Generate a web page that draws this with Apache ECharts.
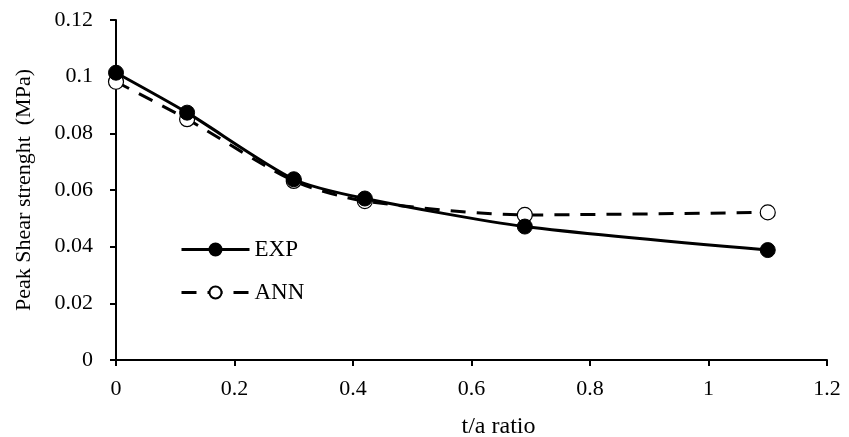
<!DOCTYPE html>
<html><head><meta charset="utf-8">
<script src="https://cdn.jsdelivr.net/npm/echarts@6/dist/echarts.min.js"></script>
<style>html,body{margin:0;padding:0;background:#fff}#c{width:849px;height:437px}</style>
</head><body><div id="c"></div>
<script>
const ratio = [0, 0.12, 0.30, 0.42, 0.69, 1.10];
const expValues = [0.1014, 0.0873, 0.0638, 0.0570, 0.0471, 0.0388];
const annValues = [0.0982, 0.0850, 0.0632, 0.0561, 0.0512, 0.0521];
const xTicks = [0, 0.2, 0.4, 0.6, 0.8, 1, 1.2];
const yTicks = [0, 0.02, 0.04, 0.06, 0.08, 0.1, 0.12];

const font = 'Liberation Serif, Times New Roman, serif';
const chart = echarts.init(document.getElementById('c'), null, {renderer: 'canvas'});
chart.setOption({
  animation: false,
  backgroundColor: '#fff',
  grid: {left: 116, right: 22, top: 20, bottom: 77, outerBoundsMode: 'none', containLabel: false},
  legend: {
    orient: 'vertical', left: 175, top: 233, itemGap: 20,
    itemWidth: 68, itemHeight: 15,
    lineStyle: {width: 3},
    textStyle: {fontFamily: font, fontSize: 23, color: '#000'},
    data: ['EXP', 'ANN']
  },
  xAxis: {
    type: 'value', min: 0, max: 1.2, interval: 0.2,
    name: 't/a ratio', nameLocation: 'middle', nameGap: 55,
    nameTextStyle: {fontFamily: font, fontSize: 24, color: '#000', padding: [0, 0, 0, 54]},
    axisLine: {lineStyle: {color: '#000', width: 2}},
    axisTick: {show: true, length: 6, lineStyle: {color: '#000', width: 2}},
    axisLabel: {fontFamily: font, fontSize: 22, color: '#000', margin: 18,
      formatter: v => { const i = xTicks.findIndex(t => Math.abs(t - v) < 1e-9); return i >= 0 ? String(xTicks[i]) : ''; }},
    splitLine: {show: false}
  },
  yAxis: {
    type: 'value', min: 0, max: 0.12, interval: 0.02,
    name: 'Peak Shear strenght  (MPa)', nameLocation: 'middle', nameGap: 81,
    nameTextStyle: {fontFamily: font, fontSize: 22, color: '#000'},
    axisLine: {show: true, lineStyle: {color: '#000', width: 2}},
    axisTick: {show: true, length: 6, lineStyle: {color: '#000', width: 2}},
    axisLabel: {fontFamily: font, fontSize: 22, color: '#000', margin: 23,
      formatter: v => { const i = yTicks.findIndex(t => Math.abs(t - v) < 1e-9); return i >= 0 ? String(yTicks[i]) : ''; }},
    splitLine: {show: false}
  },
  series: [
    {
      name: 'EXP', type: 'line', smooth: 0.25,
      data: ratio.map((x, i) => [x, expValues[i]]),
      symbol: 'circle', symbolSize: 15,
      lineStyle: {color: '#000', width: 3},
      itemStyle: {color: '#000', borderColor: '#000', borderWidth: 1},
      z: 3
    },
    {
      name: 'ANN', type: 'line', smooth: 0.25,
      data: ratio.map((x, i) => [x, annValues[i]]),
      symbol: 'circle', symbolSize: 15,
      lineStyle: {color: '#000', width: 3, type: [15, 11]},
      itemStyle: {color: '#fff', borderColor: '#000', borderWidth: 1.2},
      z: 2
    }
  ]
});
</script></body></html>
